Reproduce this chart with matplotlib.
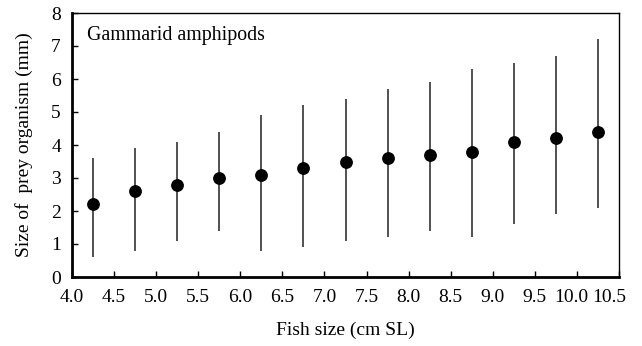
import matplotlib
matplotlib.use("Agg")
import matplotlib.pyplot as plt
import matplotlib.transforms as mtransforms

# fish size classes (cm SL) and prey size (mm)
fish_size = [4.25, 4.75, 5.25, 5.75, 6.25, 6.75, 7.25, 7.75, 8.25, 8.75, 9.25, 9.75, 10.25]
prey_mean = [2.2, 2.6, 2.8, 3.0, 3.1, 3.3, 3.5, 3.6, 3.7, 3.8, 4.1, 4.2, 4.4]
prey_max = [3.6, 3.9, 4.1, 4.4, 4.9, 5.2, 5.4, 5.7, 5.9, 6.3, 6.5, 6.7, 7.2]
prey_min = [0.6, 0.8, 1.1, 1.4, 0.8, 0.9, 1.1, 1.2, 1.4, 1.2, 1.6, 1.9, 2.1]
x_ticks = [4.0, 4.5, 5.0, 5.5, 6.0, 6.5, 7.0, 7.5, 8.0, 8.5, 9.0, 9.5, 10.0, 10.5]

plt.rcParams['font.family'] = ['Liberation Serif', 'DejaVu Serif']
plt.rcParams['font.size'] = 14

fig = plt.figure(figsize=(6.42, 3.46), dpi=100)
ax = fig.add_axes([72 / 642, 1 - 277 / 346, (619 - 72) / 642, (277 - 13) / 346])

err_lo = [m - lo for m, lo in zip(prey_mean, prey_min)]
err_hi = [hi - m for m, hi in zip(prey_mean, prey_max)]
ax.errorbar(fish_size, prey_mean, yerr=[err_lo, err_hi], fmt='o', color='black',
            ecolor='#222222', elinewidth=1.1, capsize=0, markersize=8.2)

ax.set_xlim(4.0, 10.5)
ax.set_ylim(0, 8)
ax.set_xticks(x_ticks)
ax.set_xticklabels([f"{t:.1f}" for t in x_ticks])
ax.set_yticks(range(9))
ax.tick_params(direction='in', length=4, width=1, top=False, right=False)
ax.tick_params(axis='y', pad=8)
ax.tick_params(axis='x', pad=9)

# last two labels are nudged left in the original
labels = ax.get_xticklabels()
for lab, dx in [(labels[-2], -6), (labels[-1], -10)]:
    lab.set_transform(lab.get_transform() + mtransforms.Affine2D().translate(dx, 0))

ax.spines['left'].set_linewidth(2)
ax.spines['bottom'].set_linewidth(2)
ax.spines['top'].set_linewidth(1)
ax.spines['right'].set_linewidth(1)

ax.text(87, 346 - 40, "Gammarid amphipods", transform=None, va='baseline', ha='left',
        fontsize=14.3)
ax.set_xlabel("Fish size (cm SL)", labelpad=11)
ax.set_ylabel("Size of  prey organism (mm)", labelpad=13)

fig.savefig("out.png", dpi=100)
